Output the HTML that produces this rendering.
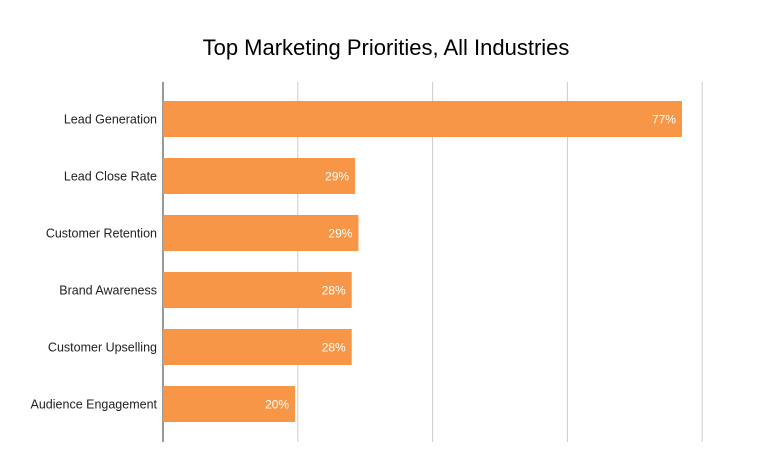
<!DOCTYPE html>
<html><head><meta charset="utf-8"><style>
body{margin:0;background:#fff;font-family:"Liberation Sans",Arial,sans-serif;}
svg{display:block}
</style></head><body>
<svg id="chart" width="771" height="471">
<rect width="771" height="471" fill="#fff"/>
<text x="386" y="55" text-anchor="middle" font-size="22" fill="#000">Top Marketing Priorities, All Industries</text>
<g id="grid"></g><g id="bars"></g>
</svg>
<script>
const categories=["Lead Generation","Lead Close Rate","Customer Retention","Brand Awareness","Customer Upselling","Audience Engagement"];
const values=[77,28.5,29,28,28,19.6];
const valueLabels=["77%","29%","29%","28%","28%","20%"];
const gridTicks=[0,20,40,60,80];
const NS="http://www.w3.org/2000/svg";
const x0=163,pxPer=6.74,plotTop=90.5,step=57,bh=36,plotBottom=442,gTop=82;
const xs=v=>x0+v*pxPer;
const yc=i=>plotTop+step*i+step/2;
const grid=document.getElementById('grid'),bars=document.getElementById('bars');
gridTicks.forEach((t)=>{
 const l=document.createElementNS(NS,'line');
 l.setAttribute('x1',xs(t));l.setAttribute('x2',xs(t));l.setAttribute('y1',gTop);l.setAttribute('y2',plotBottom);
 l.setAttribute('stroke',t===0?'#333':'#ccc');l.setAttribute('stroke-width','1');
 
 
 grid.appendChild(l);
});
categories.forEach((c,i)=>{
 const r=document.createElementNS(NS,'rect');
 r.setAttribute('x',x0);r.setAttribute('y',yc(i)-bh/2);r.setAttribute('width',xs(values[i])-x0);r.setAttribute('height',bh);
 r.setAttribute('fill','#f79646');
 
 
 bars.appendChild(r);
 const t=document.createElementNS(NS,'text');
 t.setAttribute('x',x0-6);t.setAttribute('y',yc(i)+4.5);t.setAttribute('text-anchor','end');t.setAttribute('font-size','12.5');t.setAttribute('fill','#222');
 t.textContent=c;
 
 
 bars.appendChild(t);
 const v=document.createElementNS(NS,'text');
 v.setAttribute('x',xs(values[i])-6);v.setAttribute('y',yc(i)+4.5);v.setAttribute('text-anchor','end');v.setAttribute('font-size','12');v.setAttribute('fill','#fff');
 v.textContent=valueLabels[i];
 
 
 bars.appendChild(v);
});
</script>
</body></html>
